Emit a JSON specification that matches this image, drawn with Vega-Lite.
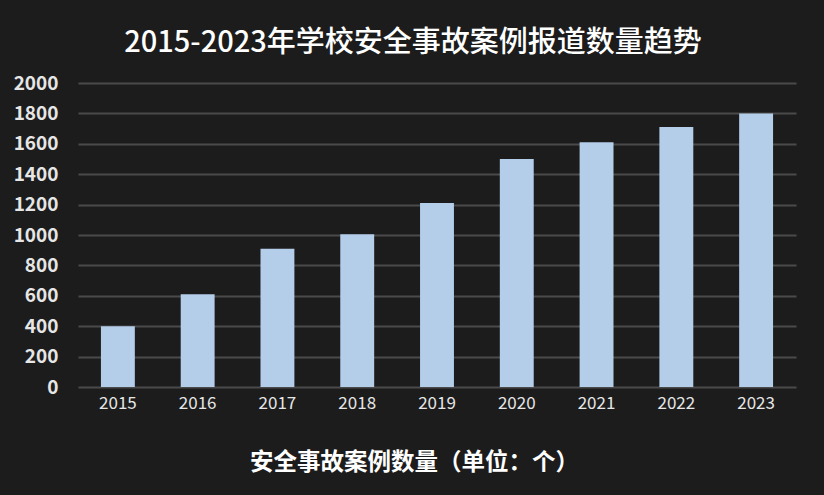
{
  "$schema": "https://vega.github.io/schema/vega-lite/v6.json",
  "description": "2015-2023 school safety incident reports",
  "width": 718,
  "height": 304,
  "autosize": "none",
  "padding": {"left": 78, "top": 83, "right": 28, "bottom": 108},
  "background": "#1c1c1c",
  "config": {
    "view": {"stroke": "transparent"},
    "font": "Noto Sans CJK SC"
  },
  "title": {
    "text": "2015-2023年学校安全事故案例报道数量趋势",
    "fontSize": 29,
    "fontWeight": 500,
    "color": "#ffffff",
    "anchor": "middle",
    "dx": -24,
    "offset": 16
  },
  "data": {
    "values": [
      {"year": "2015", "count": 400},
      {"year": "2016", "count": 610},
      {"year": "2017", "count": 910},
      {"year": "2018", "count": 1005},
      {"year": "2019", "count": 1210},
      {"year": "2020", "count": 1500},
      {"year": "2021", "count": 1610},
      {"year": "2022", "count": 1710},
      {"year": "2023", "count": 1800}
    ]
  },
  "mark": {"type": "bar", "color": "#b4cde9"},
  "encoding": {
    "x": {
      "field": "year",
      "type": "ordinal",
      "scale": {"paddingInner": 0.575, "paddingOuter": 0.2875},
      "axis": {
        "title": "安全事故案例数量（单位：个）",
        "titleFontSize": 23.5,
        "titleFontWeight": "bold",
        "titleColor": "#ffffff",
        "titleX": 336,
        "titleY": 75,
        "titleAlign": "center",
        "titleBaseline": "middle",
        "labelAngle": 0,
        "labelFontSize": 17,
        "labelColor": "#e6e6e6",
        "labelPadding": 8,
        "ticks": false,
        "domain": false
      }
    },
    "y": {
      "field": "count",
      "type": "quantitative",
      "scale": {"domain": [0, 2000]},
      "axis": {
        "title": null,
        "format": "d",
        "values": [0, 200, 400, 600, 800, 1000, 1200, 1400, 1600, 1800, 2000],
        "labelFontSize": 19,
        "labelFontWeight": "bold",
        "labelColor": "#e6e6e6",
        "labelPadding": 20,
        "ticks": false,
        "domain": false,
        "grid": true,
        "gridColor": "#4a4a4a",
        "gridWidth": 2
      }
    }
  }
}
